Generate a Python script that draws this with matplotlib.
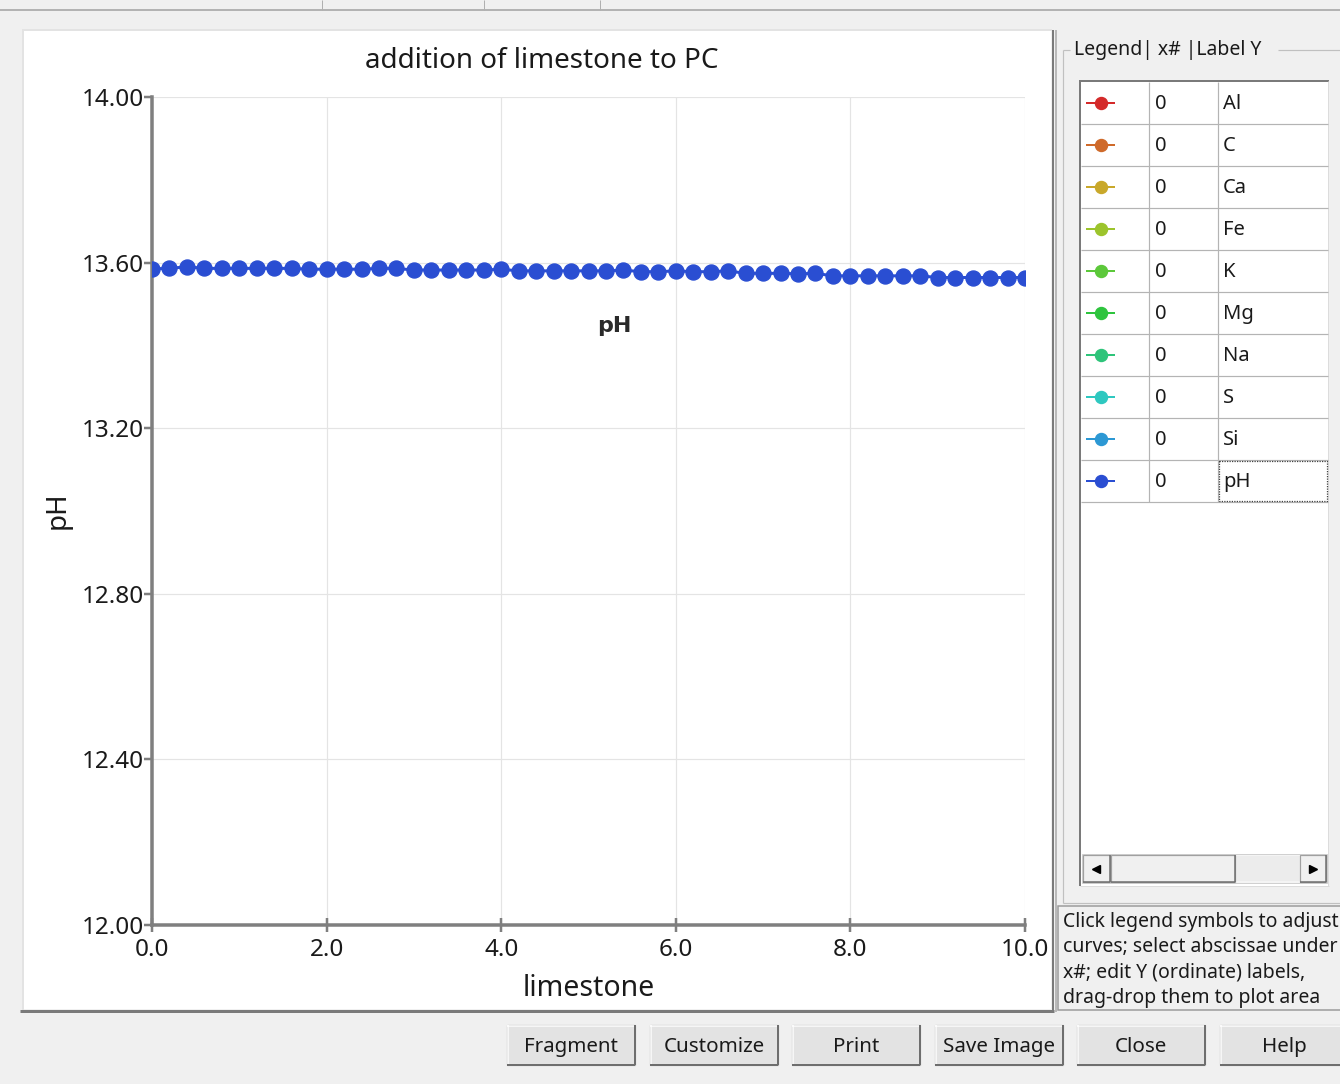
import matplotlib
matplotlib.use("Agg")
import matplotlib.pyplot as plt
from matplotlib.patches import Rectangle

# ---- data ----
limestone = [0.0, 0.2, 0.4, 0.6, 0.8, 1.0, 1.2, 1.4, 1.6, 1.8,
             2.0, 2.2, 2.4, 2.6, 2.8, 3.0, 3.2, 3.4, 3.6, 3.8,
             4.0, 4.2, 4.4, 4.6, 4.8, 5.0, 5.2, 5.4, 5.6, 5.8,
             6.0, 6.2, 6.4, 6.6, 6.8, 7.0, 7.2, 7.4, 7.6, 7.8,
             8.0, 8.2, 8.4, 8.6, 8.8, 9.0, 9.2, 9.4, 9.6, 9.8, 10.0]
ph = [13.585, 13.586, 13.590, 13.586, 13.586, 13.586, 13.586, 13.586, 13.586, 13.584,
      13.584, 13.584, 13.584, 13.586, 13.586, 13.582, 13.582, 13.582, 13.582, 13.582,
      13.584, 13.580, 13.580, 13.580, 13.580, 13.580, 13.580, 13.582, 13.578, 13.578,
      13.580, 13.578, 13.578, 13.580, 13.574, 13.574, 13.574, 13.573, 13.574, 13.568,
      13.568, 13.568, 13.568, 13.568, 13.568, 13.564, 13.564, 13.564, 13.564, 13.564, 13.564]

x_ticks = [0.0, 2.0, 4.0, 6.0, 8.0, 10.0]
y_ticks = [12.0, 12.4, 12.8, 13.2, 13.6, 14.0]

legend_names = ["Al", "C", "Ca", "Fe", "K", "Mg", "Na", "S", "Si", "pH"]
legend_colors = ["#d42a2a", "#cf6a2a", "#c9a82a", "#9cc42c", "#5cc83a",
                 "#2ec43e", "#2ec47a", "#2ec8c0", "#2c98d4", "#2a4ed2"]
legend_xnum = [0, 0, 0, 0, 0, 0, 0, 0, 0, 0]

button_labels = ["Fragment", "Customize", "Print", "Save Image", "Close", "Help"]
help_lines = ["Click legend symbols to adjust",
              "curves; select abscissae under",
              "x#; edit Y (ordinate) labels,",
              "drag-drop them to plot area"]

SERIES_COLOR = "#2a4ed2"
TEXT_COLOR = "#1a1a1a"
FONT = "Noto Sans"
W, H = 1340, 1084

plt.rcParams["font.family"] = [FONT, "DejaVu Sans"]
fig = plt.figure(figsize=(W / 100, H / 100), dpi=100)
fig.patch.set_facecolor("#f0f0f0")

# ---- window chrome drawn in pixel coordinates ----
ui = fig.add_axes([0, 0, 1, 1], zorder=0)
ui.set_xlim(0, W)
ui.set_ylim(H, 0)
ui.axis("off")

def px(v):
    return v * 0.72

def rect(x0, y0, x1, y1, fc="none", ec="none", lw=1, z=1):
    ui.add_patch(Rectangle((x0, y0), x1 - x0, y1 - y0, facecolor=fc,
                           edgecolor=ec, linewidth=px(lw), zorder=z))

def hline(x0, x1, y, c, lw=1, z=2, ls="-"):
    ui.plot([x0, x1], [y, y], color=c, lw=px(lw), zorder=z, ls=ls,
            solid_capstyle="butt")

def vline(x, y0, y1, c, lw=1, z=2, ls="-"):
    ui.plot([x, x], [y0, y1], color=c, lw=px(lw), zorder=z, ls=ls,
            solid_capstyle="butt")

# top strip
hline(0, W, 10, "#a0a0a0", 1.5)
for xx in (322, 484, 600):
    vline(xx, 0, 10, "#b0b0b0", 1)

# plot panel
rect(24, 30, 1051, 1009, fc="white", ec="none")
hline(22, 1052, 30, "#e3e3e3", 2)
vline(23, 30, 1010, "#e3e3e3", 2)
hline(20, 1054, 1011, "#7a7a7a", 3)
vline(1053, 30, 1012, "#7a7a7a", 2)
vline(1056, 30, 1012, "#a8a8a8", 1.5)

# legend group box
box_c = "#c0c0c0"
vline(1063, 50, 903, box_c, 1.2)
hline(1063, 1070, 50, box_c, 1.2)
hline(1278, W, 50, box_c, 1.2)
hline(1063, W, 903, box_c, 1.2)
ui.text(1074, 50, "Legend| x# |Label Y", fontsize=14, va="center",
        ha="left", color=TEXT_COLOR, zorder=5)

# legend table
rect(1080, 82, 1329, 886, fc="white", ec="none")
hline(1079, 1329, 81, "#7a7a7a", 2)
vline(1080, 81, 886, "#7a7a7a", 2)
hline(1080, 1329, 886, "#dcdcdc", 1)
vline(1328, 81, 886, "#dcdcdc", 1)
row_h = 42
for i, (name, col, xn) in enumerate(zip(legend_names, legend_colors, legend_xnum)):
    top = 82 + i * row_h
    cy = top + row_h / 2
    hline(1081, 1328, top + row_h, "#b4b4b4", 1.2)
    vline(1149, top, top + row_h, "#b4b4b4", 1.2)
    vline(1218, top, top + row_h, "#b4b4b4", 1.2)
    ui.plot([1087, 1114], [cy, cy], color=col, lw=px(2), zorder=4)
    ui.plot([1101], [cy], marker="o", ms=px(12), color=col, mec=col, zorder=5)
    ui.text(1155, cy + 1, str(xn), fontsize=14.5, va="center", ha="left",
            color=TEXT_COLOR, zorder=5)
    ui.text(1223, cy + 1, name, fontsize=14.5, va="center", ha="left",
            color=TEXT_COLOR, zorder=5)
# focus box around the last label cell
last_top = 82 + (len(legend_names) - 1) * row_h
ui.add_patch(Rectangle((1219, last_top + 1), 108, row_h - 2, facecolor="none",
                       edgecolor="#404040", linewidth=0.9, ls=(0, (1, 1)), zorder=6))

# horizontal scroll bar
rect(1082, 854, 1327, 883, fc="#f4f4f4", ec="#d0d0d0", lw=1, z=3)
rect(1234, 856, 1300, 881, fc="#ececec", ec="none", z=3)
for (a, b) in ((1083, 1110), (1111, 1235), (1300, 1326)):
    rect(a, 855, b, 882, fc="#f0f0f0", ec="#a0a0a0", lw=1.2, z=4)
    hline(a, b, 882, "#6e6e6e", 1.5, z=5)
    vline(b, 855, 882, "#6e6e6e", 1.5, z=5)
ui.plot([1096], [868.5], marker="<", ms=px(8), color="black", zorder=6)
ui.plot([1313], [868.5], marker=">", ms=px(8), color="black", zorder=6)

# help text box
rect(1058, 906, W + 2, 1010, fc="#f0f0f0", ec="#9a9a9a", lw=1.5)
for k, line in enumerate(help_lines):
    ui.text(1063, 922 + k * 25.3, line, fontsize=14, va="center", ha="left",
            color=TEXT_COLOR, zorder=5)

# buttons
btn_x = [507, 650, 792, 935, 1077, 1220]
btn_w = 128
for bx, lab in zip(btn_x, button_labels):
    rect(bx, 1025, bx + btn_w, 1065, fc="#e3e3e3", ec="#b4b4b4", lw=1.2, z=2)
    hline(bx, bx + btn_w, 1025.5, "white", 1.5, z=3)
    vline(bx + 0.5, 1025, 1065, "white", 1.5, z=3)
    hline(bx, bx + btn_w, 1064.5, "#6e6e6e", 2, z=3)
    vline(bx + btn_w - 0.5, 1025, 1065, "#6e6e6e", 2, z=3)
    ui.text(bx + btn_w / 2, 1047, lab, fontsize=14.8, ha="center", va="center",
            color=TEXT_COLOR, zorder=5)

# ---- chart ----
x0p, x1p = 152, 1025
y_top, y_bot = 97, 925
aw, ah = x1p - x0p, y_bot - y_top
ax = fig.add_axes([x0p / W, 1 - y_bot / H, aw / W, ah / H], zorder=2)
ax.patch.set_alpha(0)
ax.plot(limestone, ph, color=SERIES_COLOR, lw=px(3), marker="o",
        ms=px(15), mec=SERIES_COLOR, mfc=SERIES_COLOR, zorder=3)
ax.set_xlim(0, 10)
ax.set_ylim(12, 14)
ax.set_xticks(x_ticks)
ax.set_yticks(y_ticks)
ax.set_xticklabels([f"{v:.1f}" for v in x_ticks])
ax.set_yticklabels([f"{v:.2f}" for v in y_ticks])
ax.grid(True, color="#e4e4e4", lw=px(1.2), zorder=0)
ax.set_axisbelow(True)
for s in ("top", "right"):
    ax.spines[s].set_visible(False)
for s in ("left", "bottom"):
    ax.spines[s].set_color("#7f7f7f")
    ax.spines[s].set_linewidth(px(3.5))
ax.tick_params(axis="y", direction="out", length=6, width=px(2.5),
               color="#7f7f7f", labelsize=17.5, labelcolor=TEXT_COLOR, pad=0)
ax.tick_params(axis="x", direction="inout", length=10, width=px(2.5),
               color="#7f7f7f", labelsize=17.5, labelcolor=TEXT_COLOR, pad=4)

ax.set_title("addition of limestone to PC", fontsize=20, color=TEXT_COLOR,
             x=(542 - x0p) / aw, y=(y_bot - 61) / ah, pad=0, va="center")
ax.set_xlabel("limestone", fontsize=20.5, color=TEXT_COLOR, va="center")
ax.xaxis.set_label_coords(0.5, -(988 - y_bot) / ah)
ax.set_ylabel("pH", fontsize=20, color=TEXT_COLOR, va="center")
ax.yaxis.set_label_coords(-(x0p - 58) / aw, (y_bot - 510) / ah)
ax.text(5.29, 13.447, "pH", fontsize=16, fontweight="bold", ha="center",
        va="center", color="#2a2a2a", family=["DejaVu Sans"])

fig.savefig("out.png", dpi=100, facecolor=fig.get_facecolor())
